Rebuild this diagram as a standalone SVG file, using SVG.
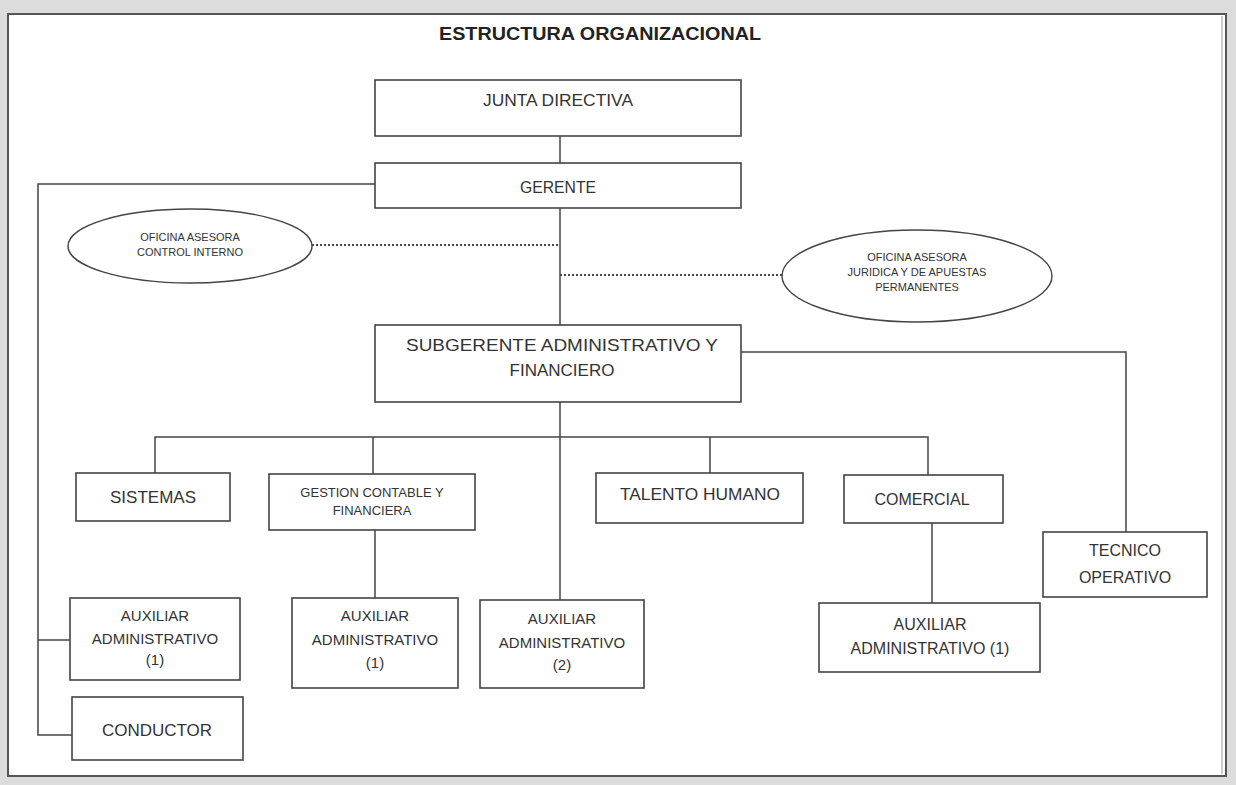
<svg xmlns="http://www.w3.org/2000/svg" width="1236" height="785" viewBox="0 0 1236 785">
<style>
.box{fill:#fff;stroke:#444;stroke-width:1.6}
.ell{fill:#fff;stroke:#444;stroke-width:1.4}
.ln{fill:none;stroke:#444;stroke-width:1.5}
.dot{fill:none;stroke:#444;stroke-width:2;stroke-dasharray:2 2}
text{font-family:"Liberation Sans",Arial,sans-serif;fill:#333;text-anchor:middle}
.t{font-size:16px}
.s{font-size:11px}
.a{font-size:15px}
.title{font-size:18px;font-weight:bold;fill:#222}
</style>
<rect x="0" y="0" width="1236" height="785" fill="#dcdcdc"/>
<rect x="8" y="14" width="1218" height="762" fill="#fff" stroke="#555" stroke-width="2"/>
<line x1="1222" y1="16" x2="1222" y2="774" stroke="#999" stroke-width="1"/>
<text class="title" x="600" y="40" textLength="322" lengthAdjust="spacingAndGlyphs">ESTRUCTURA ORGANIZACIONAL</text>
<g id="connectors">
<line class="ln" x1="560" y1="136" x2="560" y2="163"/>
<polyline class="ln" points="375,184 38,184 38,735 72,735"/>
<line class="ln" x1="38" y1="640" x2="70" y2="640"/>
<line class="ln" x1="560" y1="208" x2="560" y2="325"/>
<line class="dot" x1="312" y1="245" x2="560" y2="245"/>
<line class="dot" x1="560" y1="275" x2="783" y2="275"/>
<polyline class="ln" points="741,352 1126,352 1126,532"/>
<line class="ln" x1="560" y1="402" x2="560" y2="600"/>
<polyline class="ln" points="155,473 155,437 928,437 928,475"/>
<line class="ln" x1="373" y1="437" x2="373" y2="474"/>
<line class="ln" x1="710" y1="437" x2="710" y2="473"/>
<line class="ln" x1="375" y1="530" x2="375" y2="598"/>
<line class="ln" x1="932" y1="523" x2="932" y2="603"/>
</g>
<g id="junta"><rect class="box" x="375" y="80" width="366" height="56"/><text class="t" x="558" y="106" textLength="150" lengthAdjust="spacingAndGlyphs">JUNTA DIRECTIVA</text></g>
<g id="gerente"><rect class="box" x="375" y="163" width="366" height="45"/><text class="t" x="558" y="193" textLength="76" lengthAdjust="spacingAndGlyphs">GERENTE</text></g>
<g id="control"><ellipse class="ell" cx="190" cy="246" rx="122" ry="37"/><text class="s" x="190" y="241">OFICINA ASESORA</text><text class="s" x="190" y="256">CONTROL INTERNO</text></g>
<g id="juridica"><ellipse class="ell" cx="917" cy="276" rx="135" ry="46"/><text class="s" x="917" y="261">OFICINA ASESORA</text><text class="s" x="917" y="276">JURIDICA Y DE APUESTAS</text><text class="s" x="917" y="291">PERMANENTES</text></g>
<g id="subgerente"><rect class="box" x="375" y="325" width="366" height="77"/><text x="562" y="351" style="font-size:17px" textLength="312" lengthAdjust="spacingAndGlyphs">SUBGERENTE ADMINISTRATIVO Y</text><text x="562" y="376" style="font-size:17px">FINANCIERO</text></g>
<g id="sistemas"><rect class="box" x="76" y="473" width="154" height="48"/><text x="153" y="503" style="font-size:17px">SISTEMAS</text></g>
<g id="gestion"><rect class="box" x="269" y="474" width="206" height="56"/><text x="372" y="497" style="font-size:13px">GESTION CONTABLE Y</text><text x="372" y="515" style="font-size:13px">FINANCIERA</text></g>
<g id="talento"><rect class="box" x="596" y="473" width="207" height="50"/><text class="t" x="700" y="500" textLength="160" lengthAdjust="spacingAndGlyphs">TALENTO HUMANO</text></g>
<g id="comercial"><rect class="box" x="844" y="475" width="159" height="48"/><text class="t" x="922" y="505">COMERCIAL</text></g>
<g id="tecnico"><rect class="box" x="1043" y="532" width="164" height="65"/><text class="t" x="1125" y="556">TECNICO</text><text class="t" x="1125" y="583">OPERATIVO</text></g>
<g id="aux1"><rect class="box" x="70" y="598" width="170" height="82"/><text class="a" x="155" y="621">AUXILIAR</text><text class="a" x="155" y="644">ADMINISTRATIVO</text><text class="a" x="155" y="665">(1)</text></g>
<g id="aux2"><rect class="box" x="292" y="598" width="166" height="90"/><text class="a" x="375" y="621">AUXILIAR</text><text class="a" x="375" y="645">ADMINISTRATIVO</text><text class="a" x="375" y="668">(1)</text></g>
<g id="aux3"><rect class="box" x="480" y="600" width="164" height="88"/><text class="a" x="562" y="624">AUXILIAR</text><text class="a" x="562" y="648">ADMINISTRATIVO</text><text class="a" x="562" y="670">(2)</text></g>
<g id="aux4"><rect class="box" x="819" y="603" width="221" height="69"/><text class="t" x="930" y="630">AUXILIAR</text><text class="t" x="930" y="654">ADMINISTRATIVO (1)</text></g>
<g id="conductor"><rect class="box" x="72" y="697" width="171" height="63"/><text x="157" y="736" style="font-size:17px">CONDUCTOR</text></g>
</svg>
